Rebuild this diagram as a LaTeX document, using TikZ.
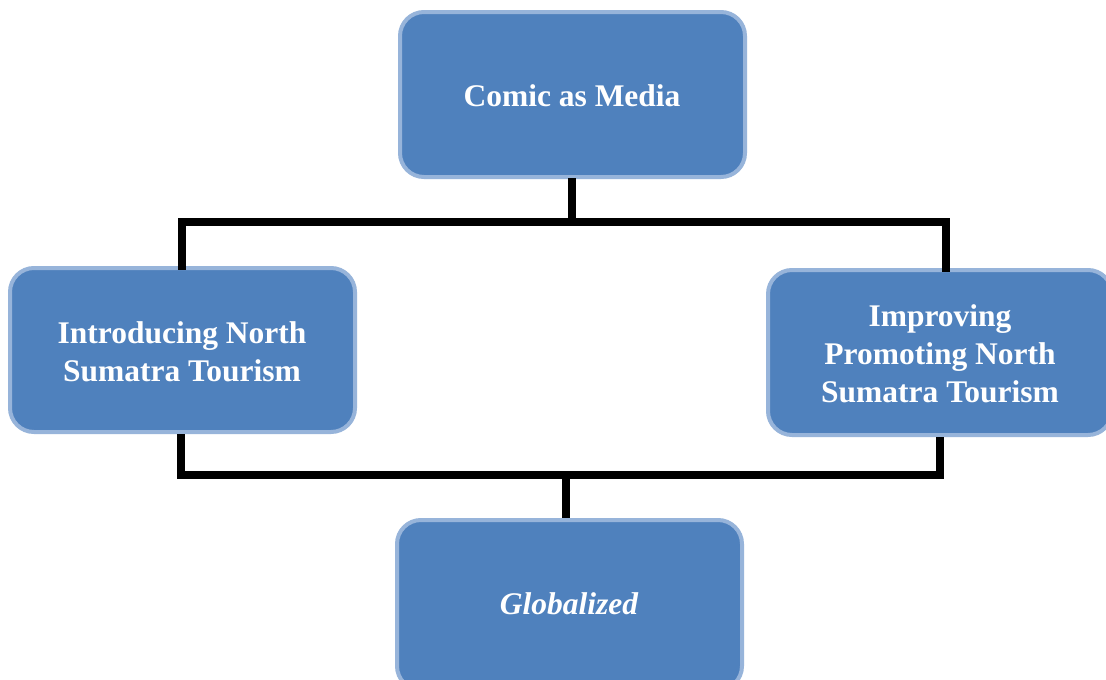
\documentclass[tikz,border=0pt]{standalone}
\usepackage{fontspec}
\setmainfont{Liberation Serif}
\definecolor{boxfill}{HTML}{4F81BD}
\definecolor{boxedge}{HTML}{97B4DA}
\begin{document}
\begin{tikzpicture}[x=1pt,y=-1pt,
  box/.style={draw=boxedge, line width=4pt, fill=boxfill, rounded corners=24pt},
  lbl/.style={text=white, font=\fontsize{31.5}{38}\selectfont\bfseries, align=center},
  conn/.style={line width=7.5pt, draw=black}]
\useasboundingbox (0,0) rectangle (1106,680);
\fill[white] (0,0) rectangle (1106,680);
% boxes
\draw[box] (400,12) rectangle (745,177);
\draw[box] (10,268) rectangle (355,432);
\draw[box] (768,270) rectangle (1112,435);
\draw[box] (397,520) rectangle (742,690);
\node[lbl] (top) at (572,96) {Comic as Media};
\node[lbl] (left) at (182,352) {Introducing North\\Sumatra Tourism};
\node[lbl] (right) at (940,354) {Improving\\Promoting North\\Sumatra Tourism};
\node[lbl, font=\fontsize{31.5}{38}\selectfont\bfseries\itshape] (bot) at (569,604) {Globalized};
% connectors
\coordinate (t1) at (572,178);
\coordinate (t2) at (572,222);
\coordinate (tl) at (182,222);
\coordinate (tr) at (946,222);
\coordinate (tlb) at (182,266);
\coordinate (trb) at (946,268);
\draw[conn] (t1) -- (t2);
\draw[conn, line cap=rect] (tlb) -- (tl) -- (tr) -- (trb);
\coordinate (bl1) at (181,434);
\coordinate (bl2) at (181,475);
\coordinate (br1) at (940,437);
\coordinate (br2) at (940,475);
\coordinate (bm1) at (566,475);
\coordinate (bm2) at (566,518);
\draw[conn] (bl1) -- (bl2) -- (br2) -- (br1);
\draw[conn] (bm1) -- (bm2);
\end{tikzpicture}
\end{document}
